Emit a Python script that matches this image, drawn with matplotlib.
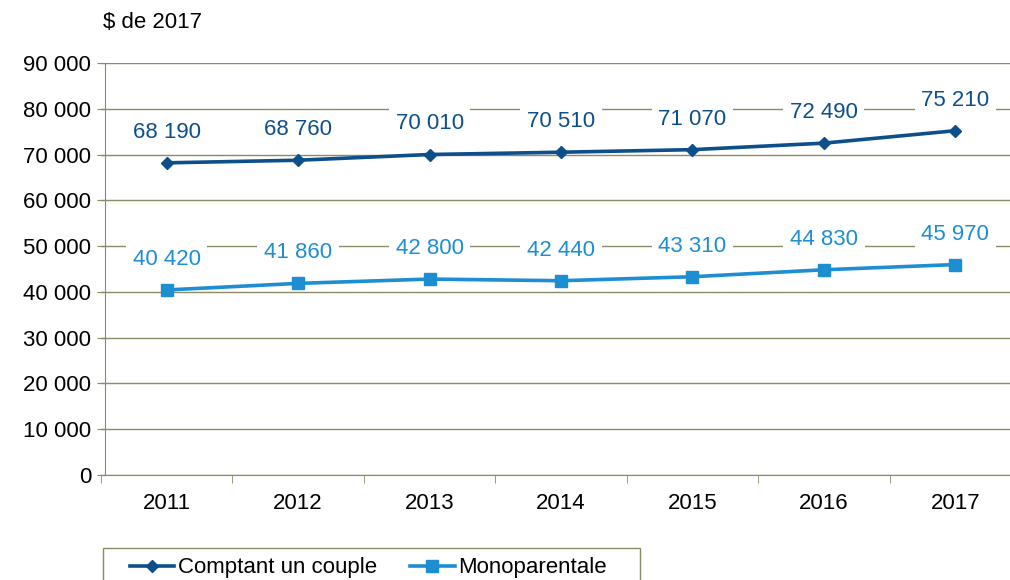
import matplotlib.pyplot as plt
from matplotlib.patches import Rectangle
from matplotlib.ticker import FuncFormatter

years = ['2011', '2012', '2013', '2014', '2015', '2016', '2017']
couple = [68190, 68760, 70010, 70510, 71070, 72490, 75210]
mono = [40420, 41860, 42800, 42440, 43310, 44830, 45970]

dark = '#0d4f8b'
light = '#1e8ed2'
grid_col = '#8a8a64'
fs = 16

plt.rcParams['font.family'] = ['Liberation Sans', 'DejaVu Sans']

fig = plt.figure(figsize=(10.1, 5.8), dpi=100)
ax = fig.add_axes([101 / 1010, 105 / 580, 920 / 1010, 412 / 580])

x = list(range(len(years)))
ax.plot(x, couple, color=dark, lw=2.6, marker='D', ms=6.5, label='Comptant un couple', zorder=3)
ax.plot(x, mono, color=light, lw=2.6, marker='s', ms=8, label='Monoparentale', zorder=3)

def spaced(v):
    return f'{int(v):,}'.replace(',', ' ')

for xi, v in zip(x, couple):
    ax.annotate(spaced(v), (xi, v), xytext=(0, 22), textcoords='offset points',
                ha='center', va='center', fontsize=fs, color=dark, zorder=4,
                bbox=dict(boxstyle='square,pad=0.3', fc='white', ec='none'))
for xi, v in zip(x, mono):
    ax.annotate(spaced(v), (xi, v), xytext=(0, 22), textcoords='offset points',
                ha='center', va='center', fontsize=fs, color=light, zorder=4,
                bbox=dict(boxstyle='square,pad=0.3', fc='white', ec='none'))

ax.set_xlim(-0.5, len(years) - 0.5)
ax.set_ylim(0, 90000)
ax.set_yticks(range(0, 90001, 10000))
ax.yaxis.set_major_formatter(FuncFormatter(lambda v, p: spaced(v)))
ax.set_xticks(x)
ax.set_xticklabels(years)
ax.set_xticks([i - 0.5 for i in range(len(years) + 1)], minor=True)
ax.tick_params(axis='x', which='major', length=0, pad=13, labelsize=fs)
ax.tick_params(axis='x', which='minor', length=6, color=grid_col, direction='out')
ax.tick_params(axis='y', length=6, color=grid_col, labelsize=fs, pad=4)

ax.grid(axis='y', color=grid_col, lw=1)
ax.set_axisbelow(True)
for s in ['top', 'right']:
    ax.spines[s].set_visible(False)
ax.spines['left'].set_color(grid_col)
ax.spines['bottom'].set_color(grid_col)
ax.spines['left'].set_position(('data', -0.47))

fig.text(103 / 1010, 1 - 22 / 580, '$ de 2017', fontsize=fs, va='center', ha='left')

# legend box (cut by the bottom edge like the original)
fig.patches.append(Rectangle((103 / 1010, -0.05), (640 - 103) / 1010, 0.05 + 32 / 580,
                             transform=fig.transFigure, fill=False, ec=grid_col, lw=1))
leg = fig.legend(loc='center left', bbox_to_anchor=(130 / 1010, 1 - 568 / 580), ncol=2,
                 fontsize=fs, frameon=False, handlelength=2.0,
                 borderpad=0, borderaxespad=0, columnspacing=1.5, handletextpad=0.15)

fig.savefig('out.png', dpi=100)
